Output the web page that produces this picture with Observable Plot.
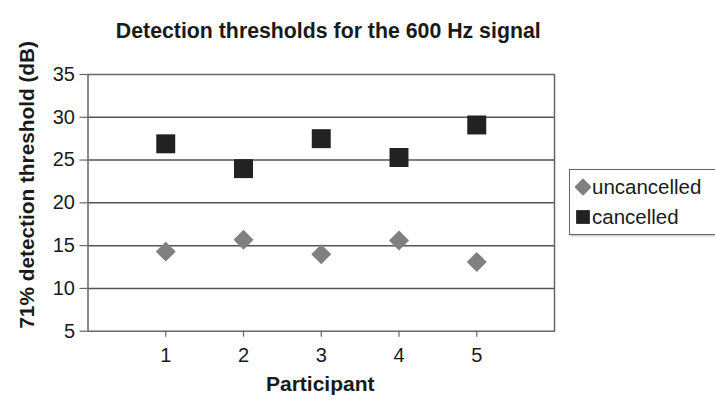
<!DOCTYPE html>
<html><head><meta charset="utf-8">
<script src="https://cdn.jsdelivr.net/npm/d3@7"></script>
<script src="https://cdn.jsdelivr.net/npm/@observablehq/plot@0.6"></script>
<style>
html,body{margin:0;padding:0;background:#fff;}
body{font-family:"Liberation Sans",Arial,Helvetica,sans-serif;color:#1a1a1a;}
#wrap{position:relative;width:715px;height:401px;overflow:hidden;}
#legend{position:absolute;left:569px;top:169px;width:160px;height:66px;border:1.5px solid #666;box-sizing:border-box;background:#fff;font-size:20.5px;box-shadow:1px 1px 2px #bbb;}
#legend .item{position:absolute;left:5px;display:flex;align-items:center;white-space:nowrap;line-height:20px;}
#legend svg{display:block;margin-right:1px;}
</style></head><body>
<div id="wrap"><div id="chart"></div><div id="legend"></div></div>
<script>
const title = "Detection thresholds for the 600 Hz signal";
const xLabel = "Participant";
const yLabel = "71% detection threshold (dB)";
const participants = [1, 2, 3, 4, 5];
const seriesNames = ["uncancelled", "cancelled"];
const uncancelled = [14.3, 15.7, 14.0, 15.6, 13.1];
const cancelled = [26.9, 24.0, 27.5, 25.3, 29.1];
const yTicks = [5, 10, 15, 20, 25, 30, 35];
const seriesColors = ["#808080", "#222222"];
const seriesSymbols = ["diamond2", "square"];

const data = participants.flatMap((p, i) => [
  {participant: p, series: seriesNames[0], value: uncancelled[i]},
  {participant: p, series: seriesNames[1], value: cancelled[i]}
]);

const chart = Plot.plot({
  width: 715, height: 401,
  marginLeft: 87.5, marginRight: 161, marginTop: 74, marginBottom: 70.3,
  style: {fontFamily: '"Liberation Sans", Arial, Helvetica, sans-serif', color: "#1a1a1a", background: "#fff"},
  x: {domain: [0, 6]},
  y: {domain: [5, 35]},
  color: {domain: seriesNames, range: seriesColors},
  symbol: {domain: seriesNames, range: seriesSymbols},
  marks: [
    Plot.ruleY(yTicks.slice(1, -1), {stroke: "#555", strokeWidth: 1.5}),
    Plot.frame({stroke: "#666", strokeWidth: 1.5}),
    Plot.axisY({ticks: yTicks, tickSize: 8, tickPadding: 5, fontSize: 20, label: null, stroke: "#666", strokeWidth: 1.2}),
    Plot.axisX({ticks: participants, tickFormat: d => String(d), tickSize: 6, tickPadding: 11, fontSize: 20, label: null, stroke: "#666", strokeWidth: 1.2}),
    Plot.dot(data.filter(d => d.series === seriesNames[0]), {x: "participant", y: "value", symbol: "series", fill: "series", r: 9.0, stroke: "none"}),
    Plot.dot(data.filter(d => d.series === seriesNames[1]), {x: "participant", y: "value", symbol: "series", fill: "series", r: 10.7, stroke: "none"}),
    Plot.text([title], {frameAnchor: "top", dx: 7, dy: -52, fontWeight: "bold", fontSize: 21.3, fill: "#1a1a1a"}),
    Plot.text([xLabel], {frameAnchor: "bottom", dx: -1, dy: 59.5, fontWeight: "bold", fontSize: 21, fill: "#1a1a1a"}),
    Plot.text([yLabel], {frameAnchor: "left", textAnchor: "middle", rotate: -90, dx: -61, dy: -18, fontWeight: "bold", fontSize: 20.8, fill: "#1a1a1a"})
  ]
});
document.getElementById("chart").appendChild(chart);

// legend
const legend = d3.select("#legend");
const tops = [7, 37];
seriesNames.forEach((name, i) => {
  const item = legend.append("div").attr("class", "item").style("top", tops[i] + "px");
  const svg = item.append("svg").attr("width", 16).attr("height", 18);
  const sym = i === 0 ? d3.symbolDiamond2 : d3.symbolSquare;
  const size = i === 0 ? 200 : 190;
  svg.append("path").attr("transform", "translate(8,9)").attr("d", d3.symbol(sym, size)()).attr("fill", seriesColors[i]);
  item.append("span").text(name);
});
</script>
</body></html>
